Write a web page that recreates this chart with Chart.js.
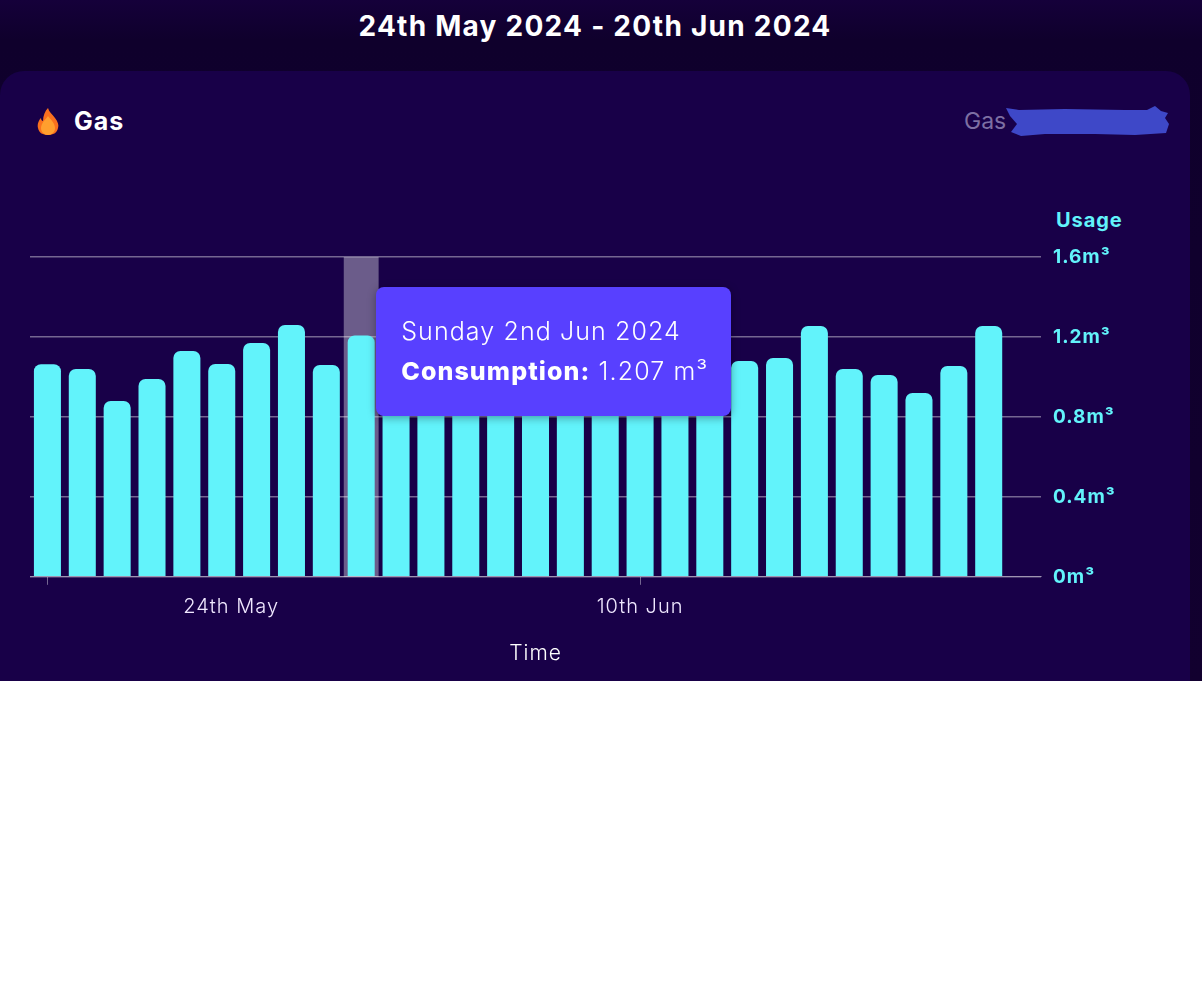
<!DOCTYPE html>
<html><head><meta charset="utf-8">
<script src="https://cdn.jsdelivr.net/npm/chart.js@4"></script>
<style>
html,body{margin:0;padding:0;background:#fff;font-family:Inter,"Open Sans",sans-serif;}
#page{position:relative;width:1202px;height:681px;overflow:hidden;background:linear-gradient(#15003a,#0f002c 40px,#12002f);}
#title{position:absolute;left:0;width:1190px;top:8px;text-align:center;color:#fff;font-weight:700;font-size:28px;letter-spacing:1.25px;line-height:36px;}
#card{position:absolute;left:0;top:71px;width:1190px;height:610px;background:#180048;border-radius:24px 24px 0 0;}
#gas{position:absolute;left:74px;top:105px;color:#fff;font-weight:700;font-size:25px;letter-spacing:1px;line-height:32px;}
#flame{position:absolute;left:36px;top:107px;}
#meter{position:absolute;left:964px;top:105px;color:#7d6fa3;font-size:23px;line-height:32px;}
#scribble{position:absolute;left:1005px;top:106px;}
#usage{position:absolute;left:1056px;top:206px;color:#62f3fb;font-weight:700;font-size:20px;letter-spacing:.9px;line-height:28px;}
#wrap{position:absolute;left:0;top:160px;width:1190px;height:521px;}
#tip{position:absolute;background:#5840ff;border-radius:8px;box-shadow:0 2px 8px rgba(0,0,0,.35);color:#fff;box-sizing:border-box;padding:24px 0 0 25px;white-space:nowrap;font-size:25px;letter-spacing:1.1px;line-height:40px;font-weight:300;}
#tip b{font-weight:800;}
</style></head>
<body>
<div id="page">
<div id="title">24th May 2024 - 20th Jun 2024</div>
<div id="card"></div>
<svg id="flame" width="24" height="30" viewBox="0 0 24 30"><path d="M12 1c1 4 4 6 7 10 3 4 4 7 3 10-1 5-5 7-10 7S3 26 2 21c-1-4 1-8 3-10 0 2 1 3 2 3 0-5 2-10 5-13z" fill="#f9701e"/><path d="M12 9c2 3 7 7 7 12 0 4-3 7-7 7s-7-3-7-7c0-5 5-9 7-12z" fill="#ff9f2e"/></svg>
<div id="gas">Gas</div>
<div id="meter">Gas</div>
<svg id="scribble" width="166" height="34" viewBox="0 0 166 34"><path d="M1 2 L14 4 L60 3 L120 4 L142 4 L150 0 L156 5 L163 7 L160 12 L164 18 L161 27 L130 29 L90 28 L40 28 L16 30 L6 26 L12 18 L5 10 Z" fill="#3e48c8"/></svg>
<div id="usage">Usage</div>
<div id="wrap"><canvas id="c"></canvas></div>
<div id="tip"></div>
</div>
<script>
const categories = ["24 May","25 May","26 May","27 May","28 May","29 May","30 May","31 May","1 Jun","2 Jun","3 Jun","4 Jun","5 Jun","6 Jun","7 Jun","8 Jun","9 Jun","10 Jun","11 Jun","12 Jun","13 Jun","14 Jun","15 Jun","16 Jun","17 Jun","18 Jun","19 Jun","20 Jun",""];
const consumption = [1.064,1.04,0.88,0.99,1.13,1.065,1.17,1.26,1.06,1.207,1.05,1.02,1.0,1.08,1.1,1.03,0.98,1.06,1.04,1.0,1.08,1.095,1.255,1.04,1.01,0.92,1.055,1.255,null];
const yTicks = [0,0.4,0.8,1.2,1.6];
const xMarkIndexes = [0,17];
const xLabelValues = [5.27,17];
const xLabelTexts = ["24th May","10th Jun"];
const activeIndex = 9;
const tipTitle = "Sunday 2nd Jun 2024";
const tipLabel = "Consumption:";
const tipValue = "1.207 m³";

const FONT = 'Inter, "Open Sans", sans-serif';
const spacing = {
  id:'spacing',
  beforeUpdate(chart){chart.ctx.letterSpacing='1px';},
  beforeDraw(chart){chart.ctx.letterSpacing='1px';}
};
const hoverBand = {
  id:'hoverBand',
  beforeDatasetsDraw(chart){
    const {ctx,chartArea:a,scales:{x}} = chart;
    const c = x.getPixelForValue(activeIndex), w = x.width/categories.length;
    ctx.save();ctx.fillStyle='rgba(255,255,255,0.36)';
    ctx.fillRect(c-w/2,a.top,w,a.bottom-a.top);ctx.restore();
  }
};
function external(ctx){
  const t=document.getElementById('tip');
  const el=ctx.tooltip.dataPoints&&ctx.tooltip.dataPoints[0];
  if(!el)return;
  t.innerHTML=tipTitle+'<br><b>'+tipLabel+'</b> '+tipValue;
  t.style.left=(el.element.x+15)+'px';
  t.style.top='287px';t.style.width='355px';t.style.height='129px';
}
const chart = new Chart(document.getElementById('c'),{
  type:'bar',
  data:{labels:categories,datasets:[{label:'Consumption',data:consumption,backgroundColor:'#62f3fb',
    barPercentage:0.775,categoryPercentage:1,borderRadius:{topLeft:7,topRight:7,bottomLeft:0,bottomRight:0},borderSkipped:false}]},
  plugins:[spacing,hoverBand],
  options:{
    responsive:true,maintainAspectRatio:false,animation:false,
    layout:{padding:{left:30,top:97,right:0,bottom:15}},
    plugins:{legend:{display:false},tooltip:{enabled:false,external}},
    scales:{
      x:{type:'category',position:'bottom',
        afterBuildTicks(s){s.ticks=xMarkIndexes.map(i=>({value:i}));},
        ticks:{display:false,autoSkip:false},
        grid:{offset:false,drawOnChartArea:false,drawTicks:true,tickLength:8,color:'rgba(255,255,255,0.4)'},
        border:{color:'rgba(255,255,255,0.3)'}},
      xl:{type:'linear',position:'bottom',offset:false,min:-0.5,max:categories.length-0.5,
        afterBuildTicks(s){s.ticks=xLabelValues.map(v=>({value:v}));},
        ticks:{autoSkip:false,maxRotation:0,color:'#f0e8ff',padding:2,font:{family:FONT,size:20,weight:'300'},
          callback(v){return xLabelTexts[xLabelValues.indexOf(v)];}},
        grid:{display:false,offset:false},border:{display:false},
        title:{display:true,text:'Time',color:'#fff',padding:{top:20,bottom:0},font:{family:FONT,size:21,weight:'300'}}},
      y:{position:'right',min:0,max:1.6,
        afterBuildTicks(s){s.ticks=yTicks.map(v=>({value:v}));},
        afterFit(s){s.width=149;},
        ticks:{color:'#62f3fb',padding:12,font:{family:FONT,size:19,weight:'700'},callback(v){return v+'m³';}},
        grid:{color:'rgba(255,255,255,0.4)',drawTicks:false,lineWidth:1.5},border:{display:false}}
    }
  }
});
chart.tooltip.setActiveElements([{datasetIndex:0,index:activeIndex}],{x:0,y:0});
chart.update();
</script>
</body></html>
